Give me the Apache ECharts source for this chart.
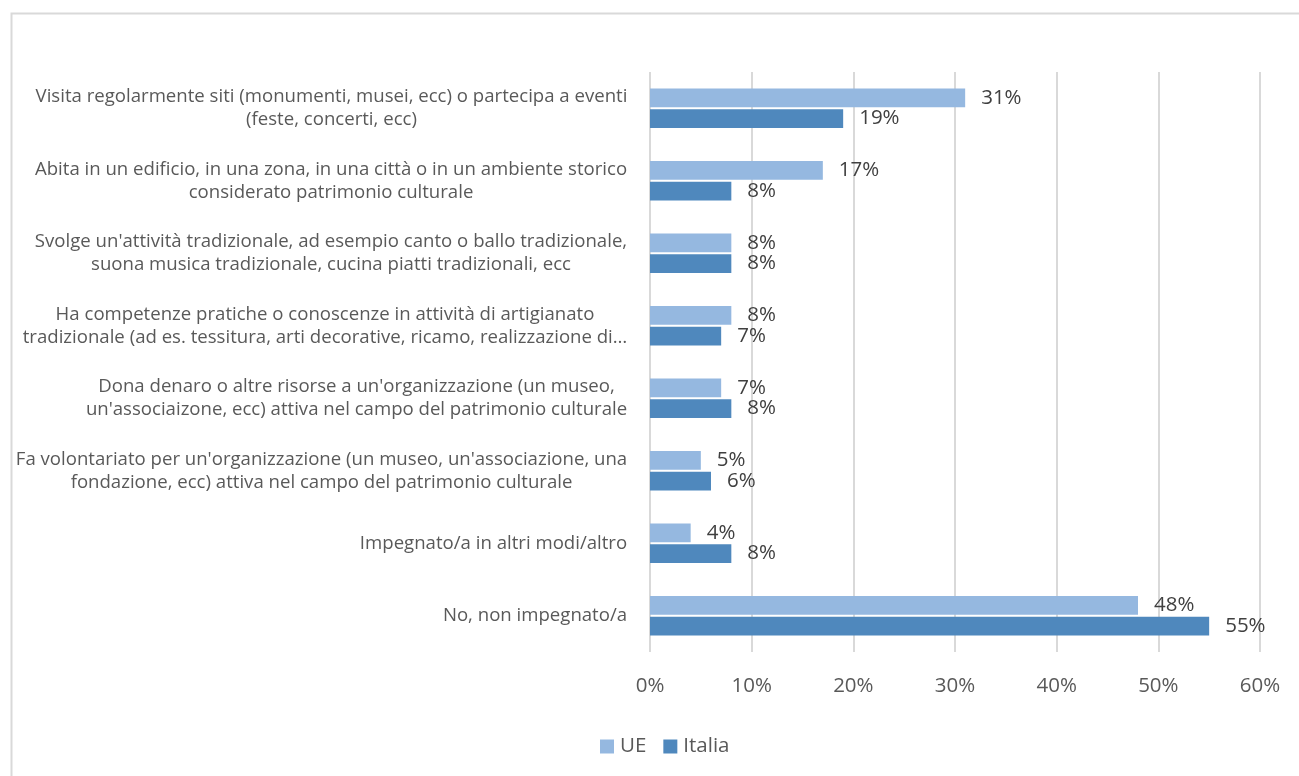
<!DOCTYPE html>
<html>
<head>
<meta charset="utf-8">
<script src="https://cdn.jsdelivr.net/npm/echarts@6/dist/echarts.min.js"></script>
<style>
  html, body { margin: 0; padding: 0; background: #fff; }
  #chart { width: 1299px; height: 776px; }
</style>
</head>
<body>
<div id="chart"></div>
<script>
// Forme di coinvolgimento nel patrimonio culturale: UE vs Italia (%)
const categories = [
  ['Visita regolarmente siti (monumenti, musei, ecc) o partecipa a eventi', '(feste, concerti, ecc)'],
  ['Abita in un edificio, in una zona, in una città o in un ambiente storico', 'considerato patrimonio culturale'],
  ["Svolge un'attività tradizionale, ad esempio canto o ballo tradizionale,", 'suona musica tradizionale, cucina piatti tradizionali, ecc'],
  ['Ha competenze pratiche o conoscenze in attività di artigianato', 'tradizionale (ad es. tessitura, arti decorative, ricamo, realizzazione di…'],
  ["Dona denaro o altre risorse a un'organizzazione (un museo,", "un'associaizone, ecc) attiva nel campo del patrimonio culturale"],
  ["Fa volontariato per un'organizzazione (un museo, un'associazione, una", 'fondazione, ecc) attiva nel campo del patrimonio culturale'],
  ['Impegnato/a in altri modi/altro'],
  ['No, non impegnato/a']
];
const seriesNames = ['UE', 'Italia'];
const ueValues = [31, 17, 8, 8, 7, 5, 4, 48];
const italiaValues = [19, 8, 8, 7, 8, 6, 8, 55];
const xTickValues = [0, 10, 20, 30, 40, 50, 60];

const FONT = '"Open Sans", "Noto Sans", sans-serif';
const CAT_SIZE = 18.6;
const NUM_SIZE = 20.5;
const TEXT_GREY = '#595959';

// width of each label block, so that its lines can be centred on one another
const ctx = document.createElement('canvas').getContext('2d');
ctx.font = CAT_SIZE + 'px ' + FONT;
const rich = {};
categories.forEach((lines, i) => {
  const w = Math.max(...lines.map(l => ctx.measureText(l).width));
  rich['c' + i] = {
    width: Math.ceil(w) + 1,
    align: 'center',
    fontFamily: FONT,
    fontSize: CAT_SIZE,
    lineHeight: 23,
    color: TEXT_GREY
  };
});

const chart = echarts.init(document.getElementById('chart'), null, { renderer: 'canvas' });

chart.setOption({
  backgroundColor: '#ffffff',
  animation: false,
  textStyle: { fontFamily: FONT },
  graphic: [{
    type: 'rect',
    left: 9, top: 11,
    shape: { width: 1400, height: 1000 },
    style: { fill: 'none', stroke: '#d9d9d9', lineWidth: 2 },
    silent: true
  }],
  grid: { left: 650, right: 39, top: 72, bottom: 124, containLabel: false },
  legend: {
    data: seriesNames,
    bottom: 14,
    left: 595,
    icon: 'rect',
    itemWidth: 14,
    itemHeight: 14,
    itemGap: 17,
    textStyle: { fontFamily: FONT, fontSize: NUM_SIZE, color: TEXT_GREY, padding: [0, 0, 0, 1] }
  },
  xAxis: {
    type: 'value',
    min: xTickValues[0],
    max: xTickValues[xTickValues.length - 1],
    interval: xTickValues[1] - xTickValues[0],
    axisLine: { show: false },
    axisTick: { show: false },
    splitLine: { lineStyle: { color: '#d9d9d9', width: 2 } },
    axisLabel: {
      margin: 24,
      fontFamily: FONT,
      fontSize: NUM_SIZE,
      color: TEXT_GREY,
      formatter: v => v + '%'
    }
  },
  yAxis: {
    type: 'category',
    inverse: true,
    data: categories.map(c => c.join('\n')),
    axisLine: { show: false },
    axisTick: { show: false },
    axisLabel: {
      margin: 22,
      formatter: (value, idx) => value.split('\n').map(l => '{c' + idx + '|' + l + '}').join('\n'),
      rich: rich
    }
  },
  series: [
    {
      name: seriesNames[0],
      type: 'bar',
      data: ueValues,
      barWidth: '26%',
      barGap: '10%',
      itemStyle: { color: '#95b8e0' },
      label: {
        show: true, position: 'right', distance: 16,
        formatter: p => p.value + '%',
        fontFamily: FONT, fontSize: NUM_SIZE, color: '#404040'
      }
    },
    {
      name: seriesNames[1],
      type: 'bar',
      data: italiaValues,
      barWidth: '26%',
      barGap: '10%',
      itemStyle: { color: '#4f88bd' },
      label: {
        show: true, position: 'right', distance: 16,
        formatter: p => p.value + '%',
        fontFamily: FONT, fontSize: NUM_SIZE, color: '#404040'
      }
    }
  ]
});
</script>
</body>
</html>
